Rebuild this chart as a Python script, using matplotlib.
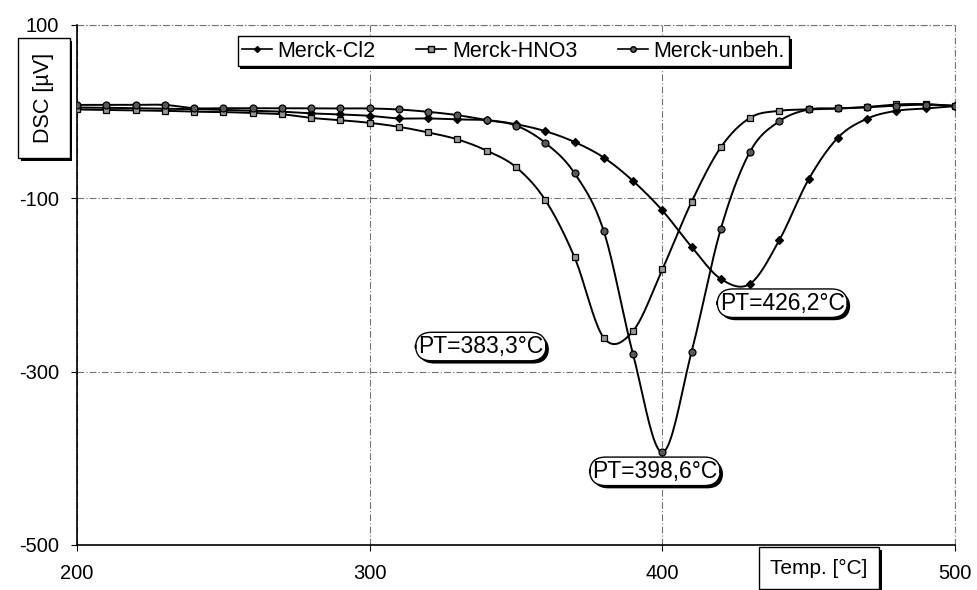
import numpy as np
import matplotlib
matplotlib.use("Agg")
import matplotlib.pyplot as plt
import matplotlib.patheffects as pe
from matplotlib.lines import Line2D

plt.rcParams['font.family'] = ['Liberation Sans', 'DejaVu Sans']
plt.rcParams['axes.unicode_minus'] = False

# Temperaturen [°C], Messpunkte alle 10 K
temp = np.arange(200, 501, 10)

dsc_cl2 = [4.8, 4.5, 4.0, 3.5, 3.0, 2.0, 1.0, 0.0, -2.0, -3.2,
           -4.8, -7.8, -7.8, -9.0, -9.8, -14.5, -22.5, -35.0, -53.0, -80.0,
           -114.0, -156.0, -193.0, -198.5, -148.0, -78.0, -30.0, -8.0, 1.0, 3.7,
           6.4]
dsc_hno3 = [2.5, 2.0, 1.5, 1.0, 0.0, -0.5, -1.5, -3.0, -7.2, -9.8,
            -12.9, -17.5, -24.0, -32.0, -45.0, -64.0, -102.0, -168.0, -261.0, -253.0,
            -182.0, -104.0, -41.0, -7.0, 1.0, 2.5, 3.7, 5.5, 8.3, 8.7,
            6.4]
dsc_unbeh = [7.8, 7.8, 7.8, 7.8, 4.0, 4.0, 4.0, 4.0, 3.8, 3.7,
             3.7, 2.5, -0.2, -4.0, -9.8, -16.0, -36.0, -71.0, -138.0, -280.0,
             -393.0, -277.0, -135.0, -46.0, -11.0, 2.5, 3.7, 5.0, 7.0, 8.0,
             7.0]

reihen = ["Merck-Cl2", "Merck-HNO3", "Merck-unbeh."]
peaks = ["PT=383,3°C", "PT=398,6°C", "PT=426,2°C"]


def catmull_rom(x, y, n=20):
    # glatte Kurve durch alle Punkte (wie "geglättete Linie")
    x = np.asarray(x, float)
    y = np.asarray(y, float)
    px = np.concatenate([[2 * x[0] - x[1]], x, [2 * x[-1] - x[-2]]])
    py = np.concatenate([[2 * y[0] - y[1]], y, [2 * y[-1] - y[-2]]])
    xs, ys = [], []
    t = np.linspace(0, 1, n, endpoint=False)
    for i in range(1, len(px) - 2):
        for p, out in ((px, xs), (py, ys)):
            p0, p1, p2, p3 = p[i - 1], p[i], p[i + 1], p[i + 2]
            out.append(0.5 * ((2 * p1) + (-p0 + p2) * t
                              + (2 * p0 - 5 * p1 + 4 * p2 - p3) * t ** 2
                              + (-p0 + 3 * p1 - 3 * p2 + p3) * t ** 3))
    xs.append([x[-1]])
    ys.append([y[-1]])
    return np.concatenate(xs), np.concatenate(ys)


fig = plt.figure(figsize=(9.78, 5.9), dpi=100)
ax = fig.add_axes([77 / 978, 1 - 545 / 590, 878 / 978, 520 / 590])

stile = [
    dict(marker='D', mfc='k', ms=4),
    dict(marker='s', mfc='0.6', ms=5),
    dict(marker='o', mfc='0.35', ms=5),
]

for daten, st in zip([dsc_cl2, dsc_hno3, dsc_unbeh], stile):
    sx, sy = catmull_rom(temp, daten)
    ax.plot(sx, sy, color='k', lw=1.4, zorder=3)
    ax.plot(temp, daten, ls='none', marker=st['marker'], mfc=st['mfc'],
            mec='k', mew=0.9, ms=st['ms'], zorder=4)

ax.set_xlim(200, 500)
ax.set_ylim(-500, 100)
ax.set_xticks([200, 300, 400, 500])
ax.set_yticks([100, -100, -300, -500])
ax.tick_params(labelsize=14.5, length=4, direction='out', color='k')
ax.tick_params(axis='x', pad=10)
ax.tick_params(axis='y', pad=9)
gitter = dict(color='0.45', lw=0.8, ls=(0, (6, 2, 1, 2)))
ax.grid(True, **gitter)
for s in ['top', 'right']:
    ax.spines[s].set_visible(False)
ax.axhline(100, clip_on=False, **gitter)
ax.axvline(500, clip_on=False, **gitter)
ax.spines['left'].set_linewidth(1.2)
ax.spines['bottom'].set_linewidth(1.2)

schatten = [pe.withSimplePatchShadow(offset=(2, -2), shadow_rgbFace='k', alpha=1.0)]

# Legende
handles = [Line2D([], [], color='k', lw=1.2, marker=st['marker'], mfc=st['mfc'],
                  mec='k', ms=st['ms'] - 1) for st in stile]
leg = ax.legend(handles, reihen, ncol=3, loc='upper center',
                bbox_to_anchor=(0.497, 0.978), fontsize=15.5, frameon=True,
                fancybox=False, edgecolor='k', framealpha=1, handlelength=1.4,
                handletextpad=0.25, columnspacing=1.9, borderpad=0.2,
                borderaxespad=0)
leg.get_frame().set_linewidth(1.0)
leg.get_frame().set_path_effects(schatten)
leg.set_zorder(6)

# Peak-Beschriftungen
pos = [(338.0, -271), (397.5, -415), (441.0, -221)]
for txt, (px, py) in zip(peaks, pos):
    t = ax.text(px, py, txt, fontsize=16.5, ha='center', va='center', zorder=7,
                bbox=dict(boxstyle='round,pad=0.12,rounding_size=0.7', fc='w',
                          ec='k', lw=1.0))
    t.get_bbox_patch().set_path_effects(schatten)

# Achsentitel in Kästchen
yl = fig.text(44 / 978, 1 - 98 / 590, "DSC [µV]", rotation=90, fontsize=15.5,
              ha='center', va='center',
              bbox=dict(boxstyle='square,pad=0.7', fc='w', ec='k', lw=1.0))
yl.get_bbox_patch().set_path_effects(schatten)
xl = fig.text(819 / 978, 1 - 568 / 590, "Temp. [°C]", fontsize=15,
              ha='center', va='center',
              bbox=dict(boxstyle='square,pad=0.55', fc='w', ec='k', lw=1.0))
xl.get_bbox_patch().set_path_effects(schatten)

fig.savefig("out.png", dpi=100)
